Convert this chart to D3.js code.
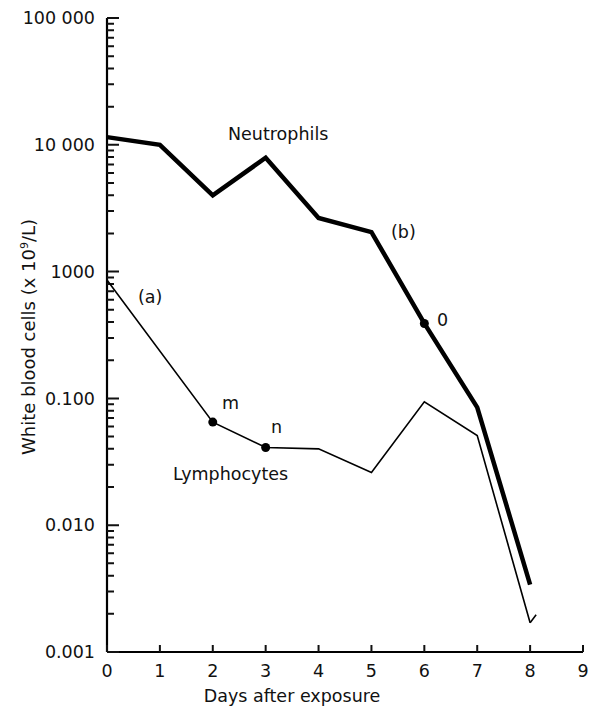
<!DOCTYPE html>
<html>
<head>
<meta charset="utf-8">
<script src="https://cdn.jsdelivr.net/npm/d3@7"></script>
<style>
  body { margin: 0; background: #fff; }
  svg { display: block; font-family: "DejaVu Sans", "Liberation Sans", Arial, sans-serif; }
</style>
</head>
<body>
<div id="chart"></div>
<script>
// values in x 10^9/L
const days = [0, 1, 2, 3, 4, 5, 6, 7, 8, 9];
const neutroDays = [0, 1, 2, 3, 4, 5, 6, 7, 8];
const neutrophils = [11.5, 10, 4.0, 7.9, 2.65, 2.05, 0.39, 0.085, 0.0034];
const lymphoDays = [0, 2, 3, 4, 5, 6, 7, 8];
const lymphocytes = [0.86, 0.065, 0.041, 0.040, 0.026, 0.094, 0.051, 0.0017];
const yTickValues = [0.001, 0.01, 0.1, 1, 10, 100];
const yTickLabels = ["0.001", "0.010", "0.100", "1000", "10 000", "100 000"];

const margin = { top: 18, right: 8, bottom: 60, left: 107 };
const width = 591 - margin.left - margin.right;
const height = 712 - margin.top - margin.bottom;
const fontSize = "17.5px";

const svg = d3.select("#chart")
  .append("svg")
  .attr("width", 591)
  .attr("height", 712)
  .append("g")
  .attr("transform", `translate(${margin.left},${margin.top})`);

const x = d3.scaleLinear().domain([0, 9]).range([0, 476]);
const y = d3.scaleLog().domain([0.001, 100]).range([height, 0]);

// axis lines
svg.append("line")
  .attr("x1", 0).attr("x2", 0)
  .attr("y1", 0).attr("y2", height)
  .attr("stroke", "#000").attr("stroke-width", 2.2);

svg.append("line")
  .attr("x1", 0).attr("x2", x(9))
  .attr("y1", height).attr("y2", height)
  .attr("stroke", "#000").attr("stroke-width", 2.2);

// y ticks: minor log ticks (short) and decades (long), all pointing inside
const isMajor = v => yTickValues.some(t => Math.abs(t - v) / t < 1e-6);
const yTicks = y.ticks();
svg.append("path")
  .attr("fill", "none")
  .attr("stroke", "#111")
  .attr("stroke-width", 2)
  .attr("d", yTicks.map(d => `M0,${y(d)}H${isMajor(d) ? 12 : 7}`).join(""));

svg.append("g")
  .selectAll("text")
  .data(yTickValues)
  .enter()
  .append("text")
  .attr("x", -12)
  .attr("y", d => y(d))
  .attr("dy", "0.35em")
  .attr("text-anchor", "end")
  .style("font-size", fontSize)
  .attr("fill", "#111")
  .text((d, i) => yTickLabels[i]);

// x ticks pointing up
svg.append("path")
  .attr("fill", "none")
  .attr("stroke", "#111")
  .attr("stroke-width", 2)
  .attr("d", days.map(d => `M${x(d)},${height}V${height - 7}`).join(""));

svg.append("g")
  .selectAll("text")
  .data(days)
  .enter()
  .append("text")
  .attr("x", d => x(d))
  .attr("y", height + 25)
  .attr("text-anchor", "middle")
  .style("font-size", fontSize)
  .attr("fill", "#111")
  .text(d => d);

// axis titles
svg.append("text")
  .attr("x", 185)
  .attr("y", height + 50)
  .attr("text-anchor", "middle")
  .style("font-size", fontSize)
  .attr("fill", "#111")
  .text("Days after exposure");

svg.append("text")
  .attr("transform", "rotate(-90)")
  .attr("x", -319)
  .attr("y", -72)
  .attr("text-anchor", "middle")
  .style("font-size", "18px")
  .attr("fill", "#111")
  .html("White blood cells (x 10<tspan dy='-7' font-size='11'>9</tspan><tspan dy='7'>/L)</tspan>");

// lines
const neutroData = neutroDays.map((d, i) => ({ day: d, v: neutrophils[i] }));
const lymphoData = lymphoDays.map((d, i) => ({ day: d, v: lymphocytes[i] }));

const line = d3.line()
  .x(d => x(d.day))
  .y(d => y(d.v));

svg.append("path")
  .datum(lymphoData)
  .attr("fill", "none")
  .attr("stroke", "#000")
  .attr("stroke-width", 1.6)
  .attr("stroke-linejoin", "miter")
  .attr("d", line);

svg.append("path")
  .datum(neutroData)
  .attr("fill", "none")
  .attr("stroke", "#000")
  .attr("stroke-width", 4.5)
  .attr("stroke-linejoin", "miter")
  .attr("d", line);

// little tail at the end of the lymphocyte curve
const last = lymphoData[lymphoData.length - 1];
svg.append("line")
  .attr("x1", x(last.day)).attr("y1", y(last.v))
  .attr("x2", x(last.day) + 6).attr("y2", y(last.v) - 8)
  .attr("stroke", "#000").attr("stroke-width", 1.6);

// marked points
const dots = [
  { day: 2, v: lymphocytes[1] },
  { day: 3, v: lymphocytes[2] },
  { day: 6, v: neutrophils[6] }
];
svg.selectAll("circle.pt")
  .data(dots)
  .enter()
  .append("circle")
  .attr("class", "pt")
  .attr("cx", d => x(d.day))
  .attr("cy", d => y(d.v))
  .attr("r", 4.5)
  .attr("fill", "#000");

// annotations
const notes = [
  { text: "Neutrophils", x: 121, y: 122 },
  { text: "(b)", x: 284, y: 220 },
  { text: "0", x: 330, y: 308 },
  { text: "(a)", x: 31, y: 285 },
  { text: "m", x: 115, y: 391 },
  { text: "n", x: 164, y: 415 },
  { text: "Lymphocytes", x: 66, y: 462 }
];
svg.selectAll("text.note")
  .data(notes)
  .enter()
  .append("text")
  .attr("class", "note")
  .attr("x", d => d.x)
  .attr("y", d => d.y)
  .style("font-size", fontSize)
  .attr("fill", "#111")
  .text(d => d.text);
</script>
</body>
</html>
